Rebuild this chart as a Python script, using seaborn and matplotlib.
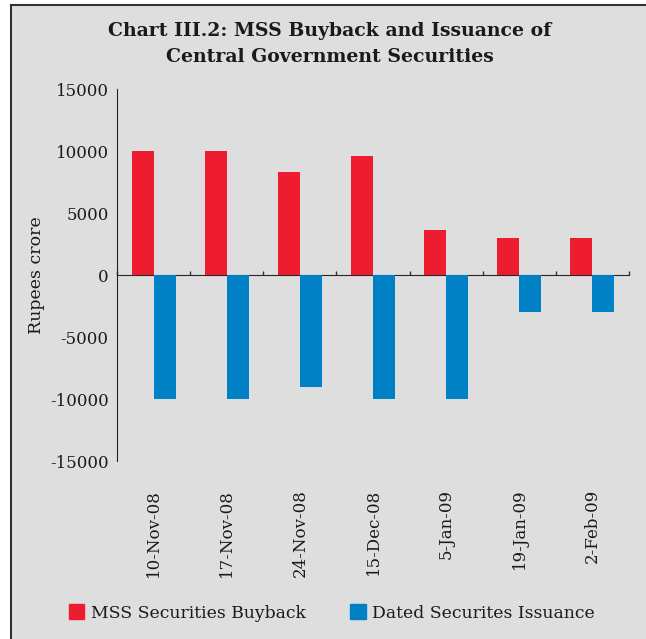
import pandas as pd
import seaborn as sns
import matplotlib.pyplot as plt
from matplotlib.patches import Rectangle

# data (Rupees crore)
dates = ['10-Nov-08', '17-Nov-08', '24-Nov-08', '15-Dec-08', '5-Jan-09', '19-Jan-09', '2-Feb-09']
buyback = [10000, 10000, 8300, 9600, 3600, 3000, 3000]
issuance = [-10000, -10000, -9000, -10000, -10000, -3000, -3000]
series = ['MSS Securities Buyback', 'Dated Securites Issuance']
colors = ['#ed1c2e', '#0081c6']

df = pd.DataFrame({
    'date': dates * 2,
    'value': buyback + issuance,
    'series': [series[0]] * len(dates) + [series[1]] * len(dates),
})

sns.set_style('white')
plt.rcParams['font.family'] = ['DejaVu Serif']
plt.rcParams['axes.unicode_minus'] = False
plt.rcParams['text.color'] = '#1a1a1a'
plt.rcParams['xtick.color'] = '#1a1a1a'
plt.rcParams['ytick.color'] = '#1a1a1a'
plt.rcParams['axes.labelcolor'] = '#1a1a1a'
bg = '#dedede'

fig = plt.figure(figsize=(6.46, 6.39), dpi=100, facecolor='white')
# grey panel with dark frame on top/left
fig.patches.append(Rectangle((11 / 646, -0.1), 1.2, 1 - 5 / 639 + 0.1, transform=fig.transFigure,
                             facecolor=bg, edgecolor='#333333', linewidth=1.5, zorder=-1))

ax = fig.add_axes([117 / 646, 1 - 461 / 639, 512 / 646, 372 / 639])
ax.set_facecolor(bg)
sns.barplot(data=df, x='date', y='value', hue='series', order=dates, hue_order=series,
            palette=colors, saturation=1, width=0.6, linewidth=0, ax=ax, legend=False)

ax.set_xlim(-0.5, len(dates) - 0.5)
ax.set_ylim(-15000, 15000)
ax.set_yticks(range(-15000, 15001, 5000))
ax.tick_params(axis='y', direction='out', length=4, width=1, labelsize=12, pad=2, color='#222222')
ax.tick_params(axis='x', length=0, labelsize=12, pad=20, rotation=90)
ax.set_xlabel('')
ax.set_ylabel('Rupees crore', fontsize=12.5)
ax.yaxis.set_label_coords(-0.141, 0.5)
for s in ['top', 'right', 'bottom']:
    ax.spines[s].set_visible(False)
ax.spines['left'].set_color('#222222')

# zero line with ticks between categories
zero = ax.secondary_xaxis(0.5)
zero.set_xticks([i - 0.5 for i in range(len(dates) + 1)])
zero.set_xticklabels([])
zero.tick_params(direction='out', length=3, width=1, color='#333333')
zero.spines['bottom'].set_color('#222222')
zero.spines['bottom'].set_linewidth(1.5)

fig.text(0.51, 0.966, 'Chart III.2: MSS Buyback and Issuance of\nCentral Government Securities',
         ha='center', va='top', fontsize=13.6, fontweight='bold', linespacing=1.6)

handles = [Rectangle((0, 0), 1, 1, color=c) for c in colors]
fig.legend(handles, series, loc='center left', bbox_to_anchor=(62 / 646, 1 - 613 / 639), ncol=2,
           frameon=False, fontsize=12.4, handlelength=0.9, handleheight=0.9, handletextpad=0.4,
           columnspacing=2.55, borderaxespad=0)

fig.savefig('out.png', dpi=100, facecolor='white')
